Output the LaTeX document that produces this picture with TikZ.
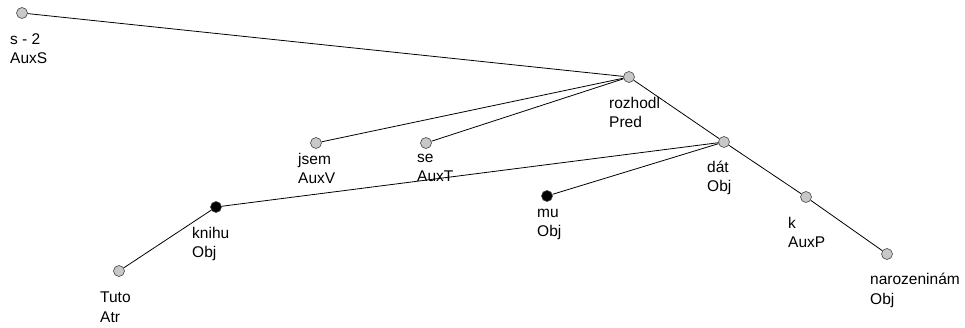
\documentclass[tikz,border=0pt]{standalone}
\usepackage{fontspec}
\setmainfont{Liberation Sans}
\usetikzlibrary{positioning}
\definecolor{tokgray}{RGB}{200,200,200}
\definecolor{tokline}{RGB}{70,70,70}

\begin{document}
\begin{tikzpicture}[x=1pt,y=-1pt,
    tok/.style={circle,draw=tokline,line width=0.6pt,minimum size=11pt,inner sep=0pt},
    lab/.style={anchor=base west,align=left,inner sep=0pt,font=\fontsize{15.5}{19.5}\selectfont},
    edge/.style={line width=0.8pt,black}]

  \useasboundingbox (0,0) rectangle (965,328);

  % ---------- uzly ----------
  \foreach \n/\x/\y/\c in {root/22/13/tokgray, rozhodl/629/77/tokgray,
                           jsem/316/143/tokgray, se/426/143/tokgray,
                           dat/724/142/tokgray, knihu/216/207/black,
                           mu/547/196/black, k/806/197/tokgray,
                           tuto/119/271/tokgray, naroz/887/254/tokgray}
    \node[tok,fill=\c] (\n) at (\x,\y) {};

  % ---------- hrany ----------
  \foreach \a/\b in {root/rozhodl, rozhodl/jsem, rozhodl/se, rozhodl/dat,
                     dat/knihu, dat/mu, dat/k, k/naroz, knihu/tuto}
    \draw[edge] (\a) -- (\b);

  % ---------- popisky (y = účaří druhého řádku) ----------
  \foreach \n/\x/\y/\w/\f in {root/10/64/{s - 2}/AuxS, rozhodl/609/128/rozhodl/Pred,
                              jsem/298/184/jsem/AuxV, se/417/182/se/AuxT,
                              dat/707/192/dát/Obj, knihu/192/258/knihu/Obj,
                              tuto/100/322/Tuto/Atr, mu/537/237/mu/Obj,
                              k/788/248/k/AuxP, naroz/870/304/narozeninám/Obj}
    \node[lab] (\n-l) at (\x,\y) {\w\\\f};

\end{tikzpicture}
\end{document}
